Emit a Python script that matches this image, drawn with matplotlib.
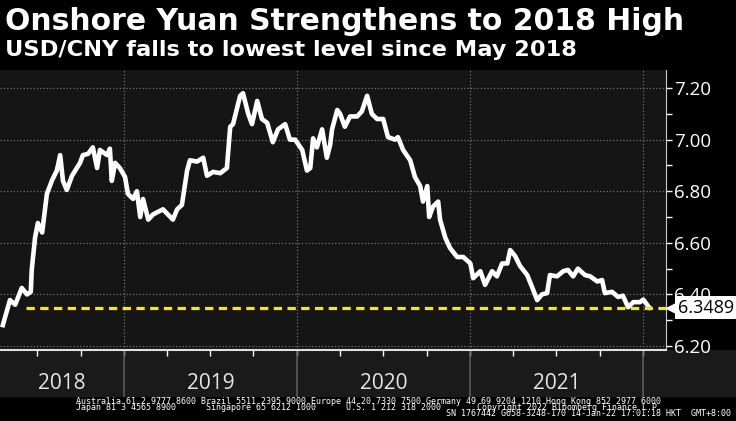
import numpy as np
import pandas as pd
import matplotlib
matplotlib.use('Agg')
import matplotlib.pyplot as plt
import matplotlib.dates as mdates
import matplotlib.transforms as mtransforms
from matplotlib.patches import Rectangle

# USD/CNY
dates = ['2018-04-20', '2018-05-05', '2018-05-16', '2018-05-30', '2018-06-10', '2018-06-18',
         '2018-06-20', '2018-06-27', '2018-07-03', '2018-07-12', '2018-07-22', '2018-08-02',
         '2018-08-12', '2018-08-19', '2018-08-25', '2018-09-02', '2018-09-13', '2018-09-30',
         '2018-10-06', '2018-10-17', '2018-10-27', '2018-11-05', '2018-11-11', '2018-11-26',
         '2018-12-02', '2018-12-06', '2018-12-13', '2018-12-23', '2019-01-03', '2019-01-09',
         '2019-01-20', '2019-01-28', '2019-02-04', '2019-02-10', '2019-02-21', '2019-03-03',
         '2019-03-24', '2019-04-14', '2019-04-23', '2019-05-03', '2019-05-14', '2019-05-20',
         '2019-06-04', '2019-06-17', '2019-06-25', '2019-07-08', '2019-07-23', '2019-08-06',
         '2019-08-13', '2019-08-19', '2019-09-03', '2019-09-09', '2019-09-20', '2019-09-28',
         '2019-10-09', '2019-10-19', '2019-10-30', '2019-11-11', '2019-11-22', '2019-12-07',
         '2019-12-17', '2019-12-28', '2020-01-12', '2020-01-22', '2020-01-29', '2020-02-04',
         '2020-02-12', '2020-02-23', '2020-03-04', '2020-03-11', '2020-03-15', '2020-03-26',
         '2020-04-01', '2020-04-11', '2020-04-22', '2020-05-07', '2020-05-17', '2020-05-28',
         '2020-06-07', '2020-06-18', '2020-07-01', '2020-07-11', '2020-07-26', '2020-08-01',
         '2020-08-12', '2020-08-27', '2020-09-06', '2020-09-17', '2020-09-23', '2020-10-02',
         '2020-10-06', '2020-10-14', '2020-10-25', '2020-10-29', '2020-11-09', '2020-11-19',
         '2020-12-04', '2020-12-17', '2021-01-01', '2021-01-07', '2021-01-22', '2021-02-01',
         '2021-02-16', '2021-02-26', '2021-03-09', '2021-03-20', '2021-03-26', '2021-04-05',
         '2021-04-16', '2021-05-01', '2021-05-11', '2021-05-22', '2021-06-01', '2021-06-12',
         '2021-06-18', '2021-07-03', '2021-07-16', '2021-07-26', '2021-08-06', '2021-08-16',
         '2021-08-31', '2021-09-11', '2021-09-26', '2021-10-06', '2021-10-12', '2021-10-27',
         '2021-11-09', '2021-11-19', '2021-11-30', '2021-12-11', '2021-12-25', '2022-01-01',
         '2022-01-11', '2022-01-14']
values = [6.281, 6.378, 6.36, 6.425, 6.40, 6.41,
          6.495, 6.62, 6.677, 6.64, 6.79, 6.843,
          6.88, 6.94, 6.84, 6.805, 6.86, 6.91,
          6.94, 6.945, 6.97, 6.89, 6.96, 6.94,
          6.965, 6.84, 6.91, 6.89, 6.855, 6.79,
          6.77, 6.80, 6.70, 6.77, 6.69, 6.71,
          6.73, 6.69, 6.73, 6.747, 6.88, 6.92,
          6.915, 6.93, 6.86, 6.875, 6.87, 6.89,
          7.05, 7.06, 7.17, 7.18, 7.10, 7.06,
          7.15, 7.08, 7.065, 6.99, 7.04, 7.06,
          7.00, 7.00, 6.96, 6.88, 6.89, 7.005,
          6.97, 7.04, 6.93, 6.98, 7.04, 7.115,
          7.10, 7.05, 7.09, 7.09, 7.11, 7.17,
          7.10, 7.08, 7.08, 7.01, 7.00, 7.01,
          6.96, 6.92, 6.855, 6.82, 6.76, 6.82,
          6.70, 6.74, 6.76, 6.69, 6.62, 6.58,
          6.545, 6.545, 6.52, 6.463, 6.49, 6.437,
          6.49, 6.47, 6.52, 6.52, 6.572, 6.55,
          6.51, 6.475, 6.43, 6.378, 6.40, 6.405,
          6.475, 6.47, 6.49, 6.495, 6.47, 6.50,
          6.475, 6.47, 6.45, 6.456, 6.405, 6.41,
          6.39, 6.395, 6.35, 6.37, 6.37, 6.38,
          6.355, 6.3489]
last_value = 6.3489
dash_start = '2018-06-08'
year_labels = ['2018', '2019', '2020', '2021']

title = 'Onshore Yuan Strengthens to 2018 High'
subtitle = 'USD/CNY falls to lowest level since May 2018'

dates = pd.to_datetime(dates)
x0, x1 = pd.Timestamp('2018-04-14'), pd.Timestamp('2022-02-18')

fig = plt.figure(figsize=(7.36, 4.21), dpi=100, facecolor='black')
W, H = 736, 421
ax = fig.add_axes([0, 71 / H, 666 / W, 280 / H])
ax.set_facecolor('#151515')

# band behind the year labels
fig.patches.append(Rectangle((0, 25 / H), 1, 46 / H, transform=fig.transFigure,
                             color='#1a1a1a', zorder=-1))

ax.plot(dates, values, color='white', lw=3.3, solid_joinstyle='round', zorder=5)
ax.hlines(last_value, pd.Timestamp(dash_start), x1, colors='#ffe800', lw=2.3,
          linestyles=(0, (2.6, 1.7)), zorder=6)

ax.set_xlim(x0, x1)
ax.set_ylim(6.1845, 7.27)

ax.yaxis.tick_right()
ax.set_yticks(np.arange(6.2, 7.21, 0.2))
ax.set_yticks(np.arange(6.3, 7.21, 0.2), minor=True)
ax.yaxis.set_major_formatter(matplotlib.ticker.FormatStrFormatter('%.2f'))
ax.tick_params(axis='y', which='both', colors='white', labelsize=13.5, length=4, width=1, pad=2)
for lab in ax.get_yticklabels():
    lab.set_family('Open Sans')
ax.yaxis.grid(True, which='major', ls=':', color='#707070', lw=0.9)

ax.xaxis.set_major_locator(mdates.MonthLocator(bymonth=[1, 4, 7, 10]))
ax.xaxis.set_major_formatter(matplotlib.ticker.NullFormatter())
ax.tick_params(axis='x', colors='white', length=4, width=1)

for s in ['top', 'left']:
    ax.spines[s].set_visible(False)
ax.spines['right'].set_color('#cccccc')
ax.spines['bottom'].set_color('#e0e0e0')
ax.spines['bottom'].set_linewidth(1.5)

blend = mtransforms.blended_transform_factory(ax.transData, ax.transAxes)
bounds = [x0] + [pd.Timestamp(f'{y}-01-01') for y in range(2019, 2023)]
for d in bounds[1:]:
    ax.axvline(d, ls=':', color='#707070', lw=0.9, zorder=1)
    ax.plot([d, d], [0, -0.164], transform=blend, color='#5a5a5a', lw=1.2, clip_on=False)
for i, lab in enumerate(year_labels):
    mid = bounds[i] + (bounds[i + 1] - bounds[i]) / 2
    ax.text(mid, -0.118, lab, transform=blend, ha='center', va='center',
            fontsize=15, color='#e6e6e6', family='Open Sans')

# last value tag
blend_y = mtransforms.blended_transform_factory(ax.transAxes, ax.transData)
ax.plot(1.009, last_value, marker='<', ms=9, color='white', transform=blend_y,
        clip_on=False, zorder=10)
ax.text(1.018, last_value, f'{last_value:.4f}', transform=blend_y, ha='left', va='center',
        fontsize=13, color='black', clip_on=False, zorder=10, family='Open Sans',
        bbox=dict(boxstyle='square,pad=0.15', fc='white', ec='none'))

fig.text(5 / W, 1 - 21 / H, title, fontsize=21.5, fontweight='bold', color='white',
         va='center', ha='left', family='DejaVu Sans')
fig.text(5 / W, 1 - 50 / H, subtitle, fontsize=16.2, fontweight='bold', color='white',
         va='center', ha='left', family='DejaVu Sans')

mono = dict(family='DejaVu Sans Mono', fontsize=6, color='white', va='center', ha='left')
fig.text(76 / W, 1 - 401 / H,
         'Australia 61 2 9777 8600 Brazil 5511 2395 9000 Europe 44 20 7330 7500 '
         'Germany 49 69 9204 1210 Hong Kong 852 2977 6000', **mono)
fig.text(76 / W, 1 - 407 / H, 'Japan 81 3 4565 8900', **mono)
fig.text(206 / W, 1 - 407 / H, 'Singapore 65 6212 1000', **mono)
fig.text(346 / W, 1 - 407 / H, 'U.S. 1 212 318 2000', **mono)
fig.text(477 / W, 1 - 407 / H, 'Copyright 2022 Bloomberg Finance L.P.', **mono)
fig.text(446 / W, 1 - 414 / H, 'SN 1767442 G658-3248-170 14-Jan-22 17:01:18 HKT  GMT+8:00', **mono)

fig.savefig('out.png', dpi=100, facecolor='black')
